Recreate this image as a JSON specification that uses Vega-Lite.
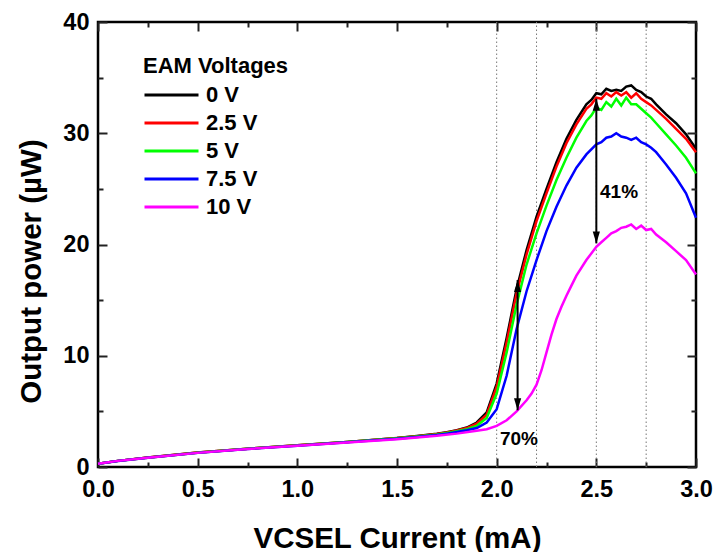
{
"$schema":"https://vega.github.io/schema/vega-lite/v6.json",
"width":598,"height":445,
"autosize":{"type":"none"},
"padding":{"left":98,"top":22,"right":21,"bottom":85},
"background":"white",
"config":{
 "font":"Liberation Sans",
 "view":{"stroke":"black","strokeWidth":2.5},
 "axis":{"grid":false,"domain":false,"labelFont":"Liberation Sans","labelFontWeight":"bold","labelFontSize":23.5,"labelColor":"black","titleFont":"Liberation Sans","titleFontWeight":"bold","titleFontSize":29.5,"titleColor":"black","labelOverlap":false,"labelFlush":false}
},
"datasets":{
"curves":[
{"v":"0 V","I":0,"P":0.3},{"v":"0 V","I":0.1,"P":0.55},{"v":"0 V","I":0.25,"P":0.85},{"v":"0 V","I":0.5,"P":1.3},{"v":"0 V","I":0.75,"P":1.65},{"v":"0 V","I":1.0,"P":1.95},{"v":"0 V","I":1.25,"P":2.25},{"v":"0 V","I":1.5,"P":2.6},{"v":"0 V","I":1.6,"P":2.78},{"v":"0 V","I":1.7,"P":2.98},{"v":"0 V","I":1.75,"P":3.12},{"v":"0 V","I":1.8,"P":3.3},{"v":"0 V","I":1.85,"P":3.55},{"v":"0 V","I":1.9,"P":4.0},{"v":"0 V","I":1.95,"P":4.9},{"v":"0 V","I":2.0,"P":7.5},{"v":"0 V","I":2.05,"P":11.6},{"v":"0 V","I":2.1,"P":16.0},{"v":"0 V","I":2.15,"P":19.5},{"v":"0 V","I":2.2,"P":22.5},{"v":"0 V","I":2.25,"P":25.0},{"v":"0 V","I":2.3,"P":27.4},{"v":"0 V","I":2.35,"P":29.5},{"v":"0 V","I":2.4,"P":31.2},{"v":"0 V","I":2.45,"P":32.6},{"v":"0 V","I":2.475,"P":33.0},{"v":"0 V","I":2.5,"P":33.6},{"v":"0 V","I":2.525,"P":33.5},{"v":"0 V","I":2.55,"P":34.0},{"v":"0 V","I":2.575,"P":33.8},{"v":"0 V","I":2.6,"P":33.9},{"v":"0 V","I":2.625,"P":33.8},{"v":"0 V","I":2.65,"P":34.2},{"v":"0 V","I":2.675,"P":34.3},{"v":"0 V","I":2.7,"P":33.9},{"v":"0 V","I":2.725,"P":33.7},{"v":"0 V","I":2.75,"P":33.3},{"v":"0 V","I":2.775,"P":33.1},{"v":"0 V","I":2.8,"P":32.6},{"v":"0 V","I":2.85,"P":31.7},{"v":"0 V","I":2.9,"P":30.9},{"v":"0 V","I":2.95,"P":29.9},{"v":"0 V","I":3.0,"P":28.6},
{"v":"2.5 V","I":0,"P":0.3},{"v":"2.5 V","I":0.1,"P":0.55},{"v":"2.5 V","I":0.25,"P":0.85},{"v":"2.5 V","I":0.5,"P":1.3},{"v":"2.5 V","I":0.75,"P":1.65},{"v":"2.5 V","I":1.0,"P":1.95},{"v":"2.5 V","I":1.25,"P":2.25},{"v":"2.5 V","I":1.5,"P":2.6},{"v":"2.5 V","I":1.6,"P":2.77},{"v":"2.5 V","I":1.7,"P":2.96},{"v":"2.5 V","I":1.75,"P":3.1},{"v":"2.5 V","I":1.8,"P":3.28},{"v":"2.5 V","I":1.85,"P":3.5},{"v":"2.5 V","I":1.9,"P":3.9},{"v":"2.5 V","I":1.95,"P":4.7},{"v":"2.5 V","I":2.0,"P":7.2},{"v":"2.5 V","I":2.05,"P":11.2},{"v":"2.5 V","I":2.1,"P":15.6},{"v":"2.5 V","I":2.15,"P":19.1},{"v":"2.5 V","I":2.2,"P":22.1},{"v":"2.5 V","I":2.25,"P":24.6},{"v":"2.5 V","I":2.3,"P":27.0},{"v":"2.5 V","I":2.35,"P":29.1},{"v":"2.5 V","I":2.4,"P":30.8},{"v":"2.5 V","I":2.45,"P":32.2},{"v":"2.5 V","I":2.475,"P":32.6},{"v":"2.5 V","I":2.5,"P":33.2},{"v":"2.5 V","I":2.525,"P":33.1},{"v":"2.5 V","I":2.55,"P":33.6},{"v":"2.5 V","I":2.575,"P":33.3},{"v":"2.5 V","I":2.6,"P":33.7},{"v":"2.5 V","I":2.625,"P":33.4},{"v":"2.5 V","I":2.65,"P":33.7},{"v":"2.5 V","I":2.675,"P":33.2},{"v":"2.5 V","I":2.7,"P":33.6},{"v":"2.5 V","I":2.725,"P":33.1},{"v":"2.5 V","I":2.75,"P":32.8},{"v":"2.5 V","I":2.775,"P":32.5},{"v":"2.5 V","I":2.8,"P":32.1},{"v":"2.5 V","I":2.85,"P":31.3},{"v":"2.5 V","I":2.9,"P":30.4},{"v":"2.5 V","I":2.95,"P":29.5},{"v":"2.5 V","I":3.0,"P":28.3},
{"v":"5 V","I":0,"P":0.3},{"v":"5 V","I":0.1,"P":0.55},{"v":"5 V","I":0.25,"P":0.84},{"v":"5 V","I":0.5,"P":1.29},{"v":"5 V","I":0.75,"P":1.64},{"v":"5 V","I":1.0,"P":1.94},{"v":"5 V","I":1.25,"P":2.24},{"v":"5 V","I":1.5,"P":2.58},{"v":"5 V","I":1.6,"P":2.75},{"v":"5 V","I":1.7,"P":2.93},{"v":"5 V","I":1.75,"P":3.06},{"v":"5 V","I":1.8,"P":3.22},{"v":"5 V","I":1.85,"P":3.4},{"v":"5 V","I":1.9,"P":3.7},{"v":"5 V","I":1.95,"P":4.4},{"v":"5 V","I":2.0,"P":6.6},{"v":"5 V","I":2.05,"P":10.3},{"v":"5 V","I":2.1,"P":14.6},{"v":"5 V","I":2.15,"P":18.2},{"v":"5 V","I":2.2,"P":21.0},{"v":"5 V","I":2.25,"P":23.5},{"v":"5 V","I":2.3,"P":25.8},{"v":"5 V","I":2.35,"P":27.8},{"v":"5 V","I":2.4,"P":29.6},{"v":"5 V","I":2.45,"P":31.1},{"v":"5 V","I":2.475,"P":31.6},{"v":"5 V","I":2.5,"P":32.3},{"v":"5 V","I":2.525,"P":32.1},{"v":"5 V","I":2.55,"P":32.8},{"v":"5 V","I":2.575,"P":32.4},{"v":"5 V","I":2.6,"P":33.1},{"v":"5 V","I":2.625,"P":32.5},{"v":"5 V","I":2.65,"P":33.2},{"v":"5 V","I":2.675,"P":32.6},{"v":"5 V","I":2.7,"P":32.6},{"v":"5 V","I":2.725,"P":32.2},{"v":"5 V","I":2.75,"P":31.8},{"v":"5 V","I":2.775,"P":31.4},{"v":"5 V","I":2.8,"P":30.9},{"v":"5 V","I":2.85,"P":29.9},{"v":"5 V","I":2.9,"P":28.9},{"v":"5 V","I":2.95,"P":27.8},{"v":"5 V","I":3.0,"P":26.4},
{"v":"7.5 V","I":0,"P":0.3},{"v":"7.5 V","I":0.1,"P":0.54},{"v":"7.5 V","I":0.25,"P":0.83},{"v":"7.5 V","I":0.5,"P":1.27},{"v":"7.5 V","I":0.75,"P":1.62},{"v":"7.5 V","I":1.0,"P":1.92},{"v":"7.5 V","I":1.25,"P":2.22},{"v":"7.5 V","I":1.5,"P":2.55},{"v":"7.5 V","I":1.6,"P":2.7},{"v":"7.5 V","I":1.7,"P":2.88},{"v":"7.5 V","I":1.75,"P":3.0},{"v":"7.5 V","I":1.8,"P":3.14},{"v":"7.5 V","I":1.85,"P":3.3},{"v":"7.5 V","I":1.9,"P":3.5},{"v":"7.5 V","I":1.95,"P":4.0},{"v":"7.5 V","I":2.0,"P":5.2},{"v":"7.5 V","I":2.05,"P":8.2},{"v":"7.5 V","I":2.1,"P":12.4},{"v":"7.5 V","I":2.15,"P":15.8},{"v":"7.5 V","I":2.2,"P":18.6},{"v":"7.5 V","I":2.25,"P":21.2},{"v":"7.5 V","I":2.3,"P":23.4},{"v":"7.5 V","I":2.35,"P":25.3},{"v":"7.5 V","I":2.4,"P":26.9},{"v":"7.5 V","I":2.45,"P":28.1},{"v":"7.5 V","I":2.5,"P":29.0},{"v":"7.5 V","I":2.525,"P":29.2},{"v":"7.5 V","I":2.55,"P":29.6},{"v":"7.5 V","I":2.575,"P":29.7},{"v":"7.5 V","I":2.6,"P":30.0},{"v":"7.5 V","I":2.625,"P":29.7},{"v":"7.5 V","I":2.65,"P":29.6},{"v":"7.5 V","I":2.675,"P":29.4},{"v":"7.5 V","I":2.7,"P":29.6},{"v":"7.5 V","I":2.725,"P":29.2},{"v":"7.5 V","I":2.75,"P":29.0},{"v":"7.5 V","I":2.775,"P":28.7},{"v":"7.5 V","I":2.8,"P":28.3},{"v":"7.5 V","I":2.85,"P":27.2},{"v":"7.5 V","I":2.9,"P":26.0},{"v":"7.5 V","I":2.95,"P":24.6},{"v":"7.5 V","I":3.0,"P":22.4},
{"v":"10 V","I":0,"P":0.3},{"v":"10 V","I":0.1,"P":0.55},{"v":"10 V","I":0.25,"P":0.83},{"v":"10 V","I":0.5,"P":1.27},{"v":"10 V","I":0.75,"P":1.62},{"v":"10 V","I":1.0,"P":1.92},{"v":"10 V","I":1.25,"P":2.2},{"v":"10 V","I":1.5,"P":2.5},{"v":"10 V","I":1.6,"P":2.65},{"v":"10 V","I":1.7,"P":2.8},{"v":"10 V","I":1.8,"P":3.0},{"v":"10 V","I":1.9,"P":3.25},{"v":"10 V","I":1.95,"P":3.4},{"v":"10 V","I":2.0,"P":3.7},{"v":"10 V","I":2.05,"P":4.2},{"v":"10 V","I":2.1,"P":5.0},{"v":"10 V","I":2.15,"P":6.0},{"v":"10 V","I":2.175,"P":6.6},{"v":"10 V","I":2.2,"P":7.4},{"v":"10 V","I":2.225,"P":8.7},{"v":"10 V","I":2.25,"P":10.3},{"v":"10 V","I":2.275,"P":11.9},{"v":"10 V","I":2.3,"P":13.3},{"v":"10 V","I":2.325,"P":14.4},{"v":"10 V","I":2.35,"P":15.4},{"v":"10 V","I":2.375,"P":16.3},{"v":"10 V","I":2.4,"P":17.2},{"v":"10 V","I":2.45,"P":18.6},{"v":"10 V","I":2.5,"P":19.8},{"v":"10 V","I":2.525,"P":20.2},{"v":"10 V","I":2.55,"P":20.6},{"v":"10 V","I":2.575,"P":21.0},{"v":"10 V","I":2.6,"P":21.2},{"v":"10 V","I":2.625,"P":21.5},{"v":"10 V","I":2.65,"P":21.6},{"v":"10 V","I":2.675,"P":21.8},{"v":"10 V","I":2.7,"P":21.4},{"v":"10 V","I":2.725,"P":21.7},{"v":"10 V","I":2.75,"P":21.3},{"v":"10 V","I":2.775,"P":21.4},{"v":"10 V","I":2.8,"P":20.9},{"v":"10 V","I":2.85,"P":20.2},{"v":"10 V","I":2.9,"P":19.4},{"v":"10 V","I":2.95,"P":18.6},{"v":"10 V","I":3.0,"P":17.3}
],
"vlines":[{"I":2.0,"lo":0,"hi":40},{"I":2.2,"lo":0,"hi":40},{"I":2.5,"lo":0,"hi":40},{"I":2.75,"lo":0,"hi":40}],
"arrows":[{"I":2.105,"P1":5.1,"P2":16.8},{"I":2.5,"P1":20.1,"P2":33.1}],
"notes":[{"I":2.614,"P":24.75,"t":"41%"},{"I":2.112,"P":2.5,"t":"70%"}]
},
"resolve":{"axis":{"x":"independent","y":"independent"}},
"layer":[
{"data":{"name":"vlines"},
 "mark":{"type":"rule","color":"#777777","strokeWidth":1,"strokeDash":[1.5,2.5]},
 "encoding":{
  "x":{"field":"I","type":"quantitative","scale":{"domain":[0,3],"nice":false,"zero":false},"axis":{"orient":"top","values":[0,0.5,1,1.5,2,2.5,3],"ticks":true,"tickColor":"#222222","tickWidth":2,"tickOpacity":1,"tickSize":9,"offset":-9,"labels":false,"title":null}},
  "y":{"field":"lo","type":"quantitative","scale":{"domain":[0,40],"nice":false},"axis":{"orient":"right","values":[0,10,20,30,40],"ticks":true,"tickColor":"#222222","tickWidth":2,"tickOpacity":1,"tickSize":9,"offset":-9,"labels":false,"title":null}},
  "y2":{"field":"hi"}}},
{"data":{"name":"curves"},
 "mark":{"type":"line","strokeWidth":2.5},
 "encoding":{
  "x":{"field":"I","type":"quantitative","scale":{"domain":[0,3],"nice":false,"zero":false},"axis":{"orient":"bottom","values":[0,0.5,1,1.5,2,2.5,3],"format":".1f","ticks":true,"tickColor":"#222222","tickWidth":2,"tickOpacity":1,"tickSize":9,"offset":-9,"labelPadding":10,"title":"VCSEL Current (mA)","titleY":89,"titleBaseline":"alphabetic"}},
  "y":{"field":"P","type":"quantitative","scale":{"domain":[0,40],"nice":false},"axis":{"orient":"left","values":[0,10,20,30,40],"ticks":true,"tickColor":"#222222","tickWidth":2,"tickOpacity":1,"tickSize":9,"offset":-9,"labelPadding":9,"title":"Output power (µW)","titleX":-67,"titleY":249,"titleBaseline":"alphabetic"}},
  "color":{"field":"v","type":"nominal","scale":{"domain":["0 V","2.5 V","5 V","7.5 V","10 V"],"range":["#000000","#ff0000","#00ff00","#0000ff","#ff00ff"]},
   "legend":{"orient":"none","legendX":45,"legendY":34,"padding":0,"title":"EAM Voltages","titleFont":"Liberation Sans","titleFontSize":22,"titleFontWeight":"bold","titleColor":"black","titlePadding":5,"labelFont":"Liberation Sans","labelFontSize":22,"labelFontWeight":"bold","labelColor":"black","symbolType":"stroke","symbolSize":2916,"symbolStrokeWidth":3,"labelOffset":6,"rowPadding":4,"clipHeight":24}}}},
{"data":{"name":"arrows"},
 "mark":{"type":"rule","color":"black","strokeWidth":2},
 "encoding":{
  "x":{"field":"I","type":"quantitative","scale":{"domain":[0,3],"nice":false,"zero":false},"axis":{"orient":"bottom","values":[0.25,0.75,1.25,1.75,2.25,2.75],"ticks":true,"tickColor":"#222222","tickWidth":2,"tickOpacity":1,"tickSize":5,"offset":-5,"labels":false,"title":null}},
  "y":{"field":"P1","type":"quantitative","scale":{"domain":[0,40],"nice":false},"axis":{"orient":"left","values":[5,15,25,35],"ticks":true,"tickColor":"#222222","tickWidth":2,"tickOpacity":1,"tickSize":5,"offset":-5,"labels":false,"title":null}},
  "y2":{"field":"P2"}}},
{"data":{"name":"arrows"},
 "mark":{"type":"point","shape":"M0,-1L0.6,1L-0.6,1Z","size":144,"filled":true,"color":"black","opacity":1,"yOffset":6},
 "encoding":{
  "x":{"field":"I","type":"quantitative","scale":{"domain":[0,3],"nice":false,"zero":false},"axis":{"orient":"top","values":[0.25,0.75,1.25,1.75,2.25,2.75],"ticks":true,"tickColor":"#222222","tickWidth":2,"tickOpacity":1,"tickSize":5,"offset":-5,"labels":false,"title":null}},
  "y":{"field":"P2","type":"quantitative","scale":{"domain":[0,40],"nice":false},"axis":{"orient":"right","values":[5,15,25,35],"ticks":true,"tickColor":"#222222","tickWidth":2,"tickOpacity":1,"tickSize":5,"offset":-5,"labels":false,"title":null}}}},
{"data":{"name":"arrows"},
 "mark":{"type":"point","shape":"M0,1L0.6,-1L-0.6,-1Z","size":144,"filled":true,"color":"black","opacity":1,"yOffset":-6},
 "encoding":{
  "x":{"field":"I","type":"quantitative","axis":null},
  "y":{"field":"P1","type":"quantitative","axis":null}}},
{"data":{"name":"notes"},
 "mark":{"type":"text","font":"Liberation Sans","fontWeight":"bold","fontSize":19,"color":"black","align":"center","baseline":"middle"},
 "encoding":{
  "x":{"field":"I","type":"quantitative","axis":null},
  "y":{"field":"P","type":"quantitative","axis":null},
  "text":{"field":"t"}}}
]
}
